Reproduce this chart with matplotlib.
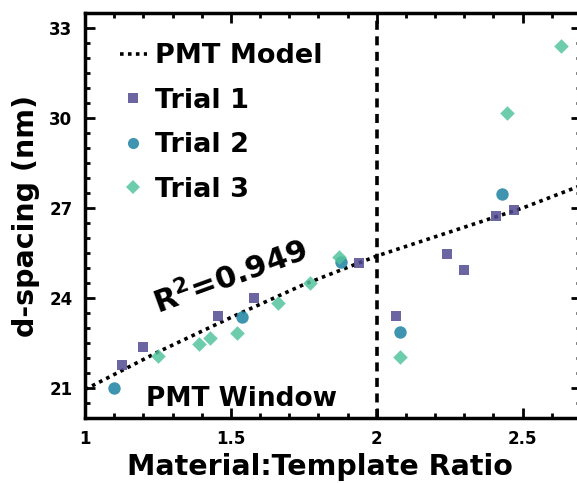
import matplotlib
matplotlib.use("Agg")
import matplotlib.pyplot as plt
from matplotlib.lines import Line2D
from matplotlib.ticker import MultipleLocator

plt.rcParams['font.family'] = ['DejaVu Sans']
plt.rcParams['font.weight'] = 'bold'
plt.rcParams['mathtext.default'] = 'bf'

# Data
model_x = [1.0, 1.25, 1.5, 1.75, 2.0, 2.25, 2.5, 2.7]
model_y = [20.95, 22.2, 23.35, 24.45, 25.4, 26.2, 27.0, 27.75]

t1_x = [1.127, 1.20, 1.455, 1.58, 1.94, 2.065, 2.24, 2.30, 2.41, 2.47]
t1_y = [21.77, 22.37, 23.40, 24.00, 25.17, 23.40, 25.47, 24.93, 26.73, 26.93]

t2_x = [1.10, 1.537, 1.877, 2.08, 2.43]
t2_y = [21.00, 23.37, 25.20, 22.87, 27.47]

t3_x = [1.25, 1.39, 1.43, 1.52, 1.66, 1.77, 1.87, 2.08, 2.445, 2.63]
t3_y = [22.07, 22.47, 22.67, 22.83, 23.83, 24.50, 25.37, 22.03, 30.17, 32.40]

c1 = '#514a92'
c2 = '#2a8aa6'
c3 = '#52c49c'

fig = plt.figure(figsize=(5.77, 4.83), dpi=100)
ax = fig.add_axes([85/577, 65/483, (581-85)/577, (418-13)/483])

ax.plot(model_x, model_y, color='black', linestyle=(0, (1, 1.2)), lw=2.6, zorder=3)
ax.axvline(2.0, color='black', linestyle=(0, (2.5, 1.8)), lw=2.6, zorder=2)

ax.scatter(t1_x, t1_y, marker='s', s=60, color=c1, alpha=0.85, zorder=4, linewidths=0)
ax.scatter(t2_x, t2_y, marker='o', s=80, color=c2, alpha=0.9, zorder=4, linewidths=0)
ax.scatter(t3_x, t3_y, marker='D', s=55, color=c3, alpha=0.85, zorder=4, linewidths=0)

ax.set_xlim(1.0, 2.7)
ax.set_ylim(20.0, 33.5)
ax.xaxis.set_minor_locator(MultipleLocator(0.1))
ax.yaxis.set_minor_locator(MultipleLocator(0.5))
ax.set_xticks([1, 1.5, 2, 2.5])
ax.set_xticklabels(['1', '1.5', '2', '2.5'])
ax.set_yticks([21, 24, 27, 30, 33])
ax.set_yticklabels(['21', '24', '27', '30', '33'])

ax.tick_params(which='both', direction='in', top=True, right=True, width=2, labelsize=12)
ax.tick_params(which='major', length=7, pad=9)
ax.tick_params(which='minor', length=3.5)
for lab in ax.get_xticklabels() + ax.get_yticklabels():
    lab.set_fontweight('bold')
for sp in ax.spines.values():
    sp.set_linewidth(2.5)

ax.set_xlabel('Material:Template Ratio', fontsize=20.5, fontweight='bold', va='center')
ax.xaxis.set_label_coords((320-85)/(581-85), -(467-418)/(418-13))
ax.set_ylabel('d-spacing (nm)', fontsize=20.5, fontweight='bold', va='center')
ax.yaxis.set_label_coords(-(85-26)/(581-85), (418-216)/(418-13))

ax.text(1.50, 24.7, 'R$^{2}$=0.949', rotation=20, fontsize=22, fontweight='bold',
        ha='center', va='center', zorder=5)
ax.text(1.535, 20.63, 'PMT Window', fontsize=19, fontweight='bold', ha='center', va='center', zorder=5)

handles = [
    Line2D([], [], color='black', linestyle=(0, (1, 1.2)), lw=2.6),
    Line2D([], [], marker='s', color=c1, linestyle='none', markersize=7, alpha=0.85, markeredgewidth=0),
    Line2D([], [], marker='o', color=c2, linestyle='none', markersize=8, alpha=0.9, markeredgewidth=0),
    Line2D([], [], marker='D', color=c3, linestyle='none', markersize=7, alpha=0.85, markeredgewidth=0),
]
labels = ['PMT Model', 'Trial 1', 'Trial 2', 'Trial 3']
leg = ax.legend(handles, labels, loc='upper left', frameon=False,
                prop={'family': 'DejaVu Sans', 'weight': 'bold', 'size': 19.5},
                handlelength=1.0, handletextpad=0.3, labelspacing=0.68,
                borderaxespad=0.0, borderpad=0.0, bbox_to_anchor=(0.07, 0.925))

fig.savefig('out.png', dpi=100)
